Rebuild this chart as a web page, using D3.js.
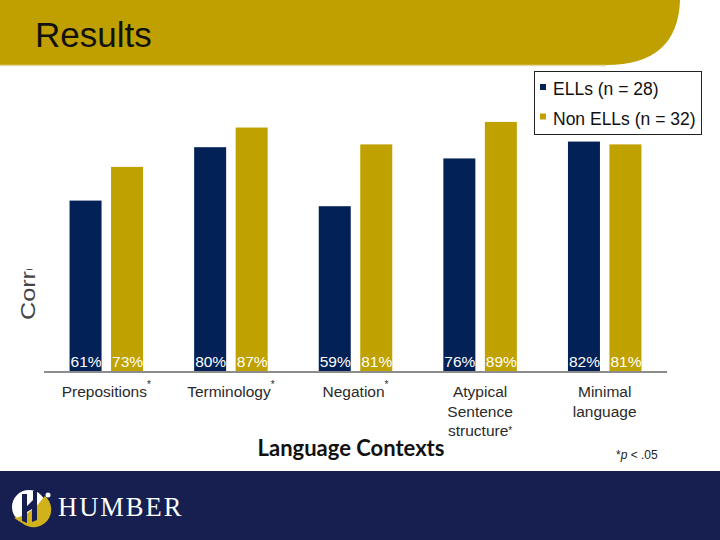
<!DOCTYPE html>
<html><head><meta charset="utf-8">
<script src="https://cdn.jsdelivr.net/npm/d3@7/dist/d3.min.js"></script>
<style>body{margin:0;background:#fff}svg{display:block}</style>
</head><body>
<svg id="c" width="720" height="540"></svg>
<script>
const categories = ["Prepositions", "Terminology", "Negation", "Atypical Sentence structure", "Minimal language"];
const categoryLines = [["Prepositions"], ["Terminology"], ["Negation"], ["Atypical", "Sentence", "structure"], ["Minimal", "language"]];
const significant = [true, true, true, true, false];
const seriesNames = ["ELLs (n = 28)", "Non ELLs (n = 32)"];
const ells = [61, 80, 59, 76, 82];
const nonElls = [73, 87, 81, 89, 81];
const colors = ["#022157", "#BFA100"];

const svg = d3.select("#c");
const font = "'Liberation Sans', Arial, sans-serif";

// header band
svg.append("path").attr("d", "M0,0 L680,0 Q678,65 606,65 L0,65 Z").attr("fill", "#C0A000");
svg.append("line").attr("x1",0).attr("x2",606).attr("y1",65.5).attr("y2",65.5).attr("stroke","#e2d9a8").attr("stroke-width",1.5);
svg.append("text").attr("x", 35).attr("y", 47).attr("font-family", font).attr("font-size", 35).attr("fill", "#111").text("Results");

// footer
svg.append("rect").attr("x",0).attr("y",471).attr("width",720).attr("height",69).attr("fill","#161F4F");
const logo = svg.append("g");
logo.append("circle").attr("cx",29).attr("cy",507).attr("r",17).attr("fill","#fff");
logo.append("path").attr("d","M14,518 Q30,516 45,496 A17,17 0 0 1 22,523 Z").attr("fill","#D2B21A");
logo.append("path").attr("d","M22,494 L27,494 L27,506 L33,500 L33,491 L37,490 L37,520 L32,522 L32,509 L27,512 L27,523 L22,521 Z").attr("fill","#161F4F");
logo.append("circle").attr("cx",48).attr("cy",495).attr("r",2.5).attr("fill","#fff");
svg.append("text").attr("x",58).attr("y",516).attr("font-family","'Liberation Serif', 'DejaVu Serif', serif").attr("font-size",26.5).attr("letter-spacing",2).attr("fill","#fff").text("HUMBER");

// chart
const x0 = d3.scaleBand().domain(categories).range([44, 667]).paddingInner(0).paddingOuter(0);
const y = d3.scaleLinear().domain([0, 100]).range([372, 91]);
const barW = 32, gap = 9.5;

const g = svg.append("g");
categories.forEach((c, i) => {
  const cx = x0(c) + x0.bandwidth() / 2;
  [ells[i], nonElls[i]].forEach((v, s) => {
    const bx = s === 0 ? cx - gap/2 - barW : cx + gap/2;
    g.append("rect").attr("x", bx).attr("y", y(v)).attr("width", barW).attr("height", y(0) - y(v)).attr("fill", colors[s]);
    g.append("text").attr("x", bx + barW/2 + 0.5).attr("y", 367).attr("text-anchor","middle")
      .attr("font-family", font).attr("font-size", 15.5).attr("fill", "#fff").text(v + "%");
  });
  const lines = categoryLines[i];
  lines.forEach((ln, k) => {
    const t = g.append("text").attr("x", cx).attr("y", 397 + k * 19.5).attr("text-anchor","middle")
      .attr("font-family", font).attr("font-size", 15.5).attr("fill", "#2a2a2a");
    t.append("tspan").text(ln);
    if (significant[i] && k === lines.length - 1) {
      if (lines.length === 1) t.append("tspan").attr("dy", -9).attr("font-size", 10).text("*");
      else t.append("tspan").attr("dy", -2).attr("font-size", 10).text("*");
    }
  });
});

// axis line
g.append("line").attr("x1",44).attr("x2",667).attr("y1",372).attr("y2",372).attr("stroke","#8c8c8c").attr("stroke-width",2);

// clipped y label
svg.append("clipPath").attr("id","yl").append("rect").attr("x",0).attr("y",269).attr("width",60).attr("height",100);
svg.append("g").attr("clip-path","url(#yl)").append("text").attr("transform","translate(35,320) rotate(-90) scale(1.2,1)")
  .attr("font-family", font).attr("font-size", 21).attr("fill","#444").text("Correct Responses");

// x title
svg.append("text").attr("x", 351).attr("y", 456).attr("text-anchor","middle").attr("font-family","Lato, 'Open Sans', sans-serif")
  .attr("font-weight","bold").attr("font-size", 22).attr("fill","#111").text("Language Contexts");

// p note
const pn = svg.append("text").attr("x", 616).attr("y", 459).attr("font-family", font).attr("font-size", 12).attr("fill","#222");
pn.append("tspan").text("*");
pn.append("tspan").attr("font-style","italic").text("p");
pn.append("tspan").text(" < .05");

// legend
const lg = svg.append("g");
lg.append("rect").attr("x",534.5).attr("y",71.5).attr("width",167).attr("height",63).attr("fill","#fff").attr("stroke","#222").attr("stroke-width",1);
seriesNames.forEach((n, i) => {
  lg.append("rect").attr("x",540).attr("y",84 + i*29.5).attr("width",6).attr("height",6).attr("fill",colors[i]);
  lg.append("text").attr("x",553).attr("y",95 + i*29.5).attr("font-family",font).attr("font-size",17.5).attr("fill","#111").text(n);
});
</script>
</body></html>
